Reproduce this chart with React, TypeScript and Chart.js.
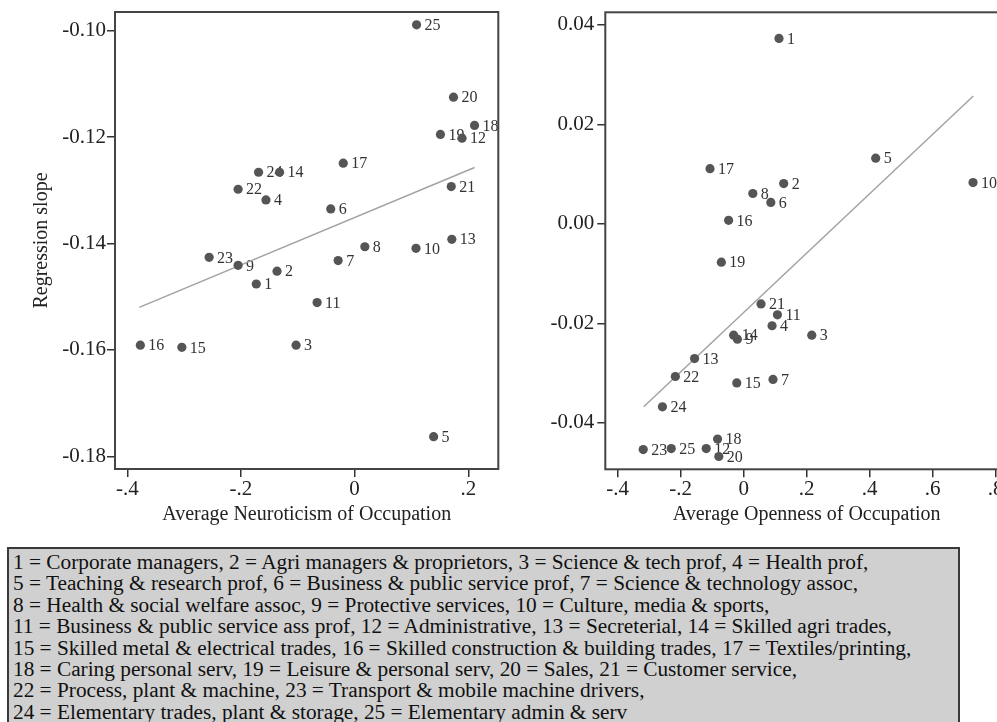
import React, { useEffect, useRef } from "react";
import { Chart, registerables } from "chart.js";

Chart.register(...registerables);

const SERIF = "'Liberation Serif', 'Times New Roman', Times, serif";

// Occupation ids (1..25)
const occupationIds = [
  "1", "2", "3", "4", "5", "6", "7", "8", "9", "10", "11", "12", "13",
  "14", "15", "16", "17", "18", "19", "20", "21", "22", "23", "24", "25",
];

// Left panel: average neuroticism vs regression slope
const neuroticism = [
  -0.173, -0.1365, -0.103, -0.156, 0.139, -0.042, -0.029, 0.018, -0.205, 0.108,
  -0.066, 0.189, 0.171, -0.132, -0.304, -0.377, -0.02, 0.211, 0.151, 0.174,
  0.17, -0.205, -0.256, -0.169, 0.109,
];
const neuroticismSlope = [
  -0.1476, -0.1452, -0.1591, -0.1318, -0.1763, -0.1335, -0.1432, -0.1406, -0.1441, -0.1409,
  -0.1511, -0.1202, -0.1392, -0.1266, -0.1595, -0.1591, -0.1249, -0.1178, -0.1195, -0.1125,
  -0.1293, -0.1298, -0.1426, -0.1266, -0.0989,
];
const neuroFitX = [-0.379, 0.211];
const neuroFitY = [-0.152, -0.1257];

// Right panel: average openness vs regression slope
const openness = [
  0.112, 0.127, 0.216, 0.09, 0.419, 0.086, 0.093, 0.029, -0.02, 0.728,
  0.107, -0.119, -0.156, -0.032, -0.022, -0.048, -0.107, -0.083, -0.071, -0.079,
  0.055, -0.217, -0.319, -0.258, -0.23,
];
const opennessSlope = [
  0.0373, 0.0081, -0.0224, -0.0205, 0.0132, 0.0043, -0.0313, 0.0061, -0.0232, 0.0083,
  -0.0183, -0.0452, -0.0271, -0.0224, -0.032, 0.0007, 0.0111, -0.0433, -0.0077, -0.0468,
  -0.0161, -0.0307, -0.0454, -0.0368, -0.0452,
];
const openFitX = [-0.3175, 0.7289];
const openFitY = [-0.0368, 0.0257];

// Ticks
const neuroXTicks = [-0.4, -0.2, 0, 0.2];
const neuroXTickLabels = ["-.4", "-.2", "0", ".2"];
const neuroYTicks = [-0.18, -0.16, -0.14, -0.12, -0.1];
const neuroYTickLabels = ["-0.18", "-0.16", "-0.14", "-0.12", "-0.10"];
const openXTicks = [-0.4, -0.2, 0, 0.2, 0.4, 0.6, 0.8];
const openXTickLabels = ["-.4", "-.2", "0", ".2", ".4", ".6", ".8"];
const openYTicks = [-0.04, -0.02, 0, 0.02, 0.04];
const openYTickLabels = ["-0.04", "-0.02", "0.00", "0.02", "0.04"];

const legendLines = [
  "1 = Corporate managers, 2 = Agri managers & proprietors, 3 = Science & tech prof, 4 = Health prof,",
  "5 = Teaching & research prof, 6 = Business & public service prof, 7 = Science & technology assoc,",
  "8 = Health & social welfare assoc, 9 = Protective services, 10 = Culture, media & sports,",
  "11 = Business & public service ass prof, 12 = Administrative, 13 = Secreterial, 14 = Skilled agri trades,",
  "15 = Skilled metal & electrical trades, 16 = Skilled construction & building trades, 17 = Textiles/printing,",
  "18 = Caring personal serv, 19 = Leisure & personal serv, 20 = Sales, 21 = Customer service,",
  "22 = Process, plant & machine, 23 = Transport & mobile machine drivers,",
  "24 = Elementary trades, plant & storage, 25 = Elementary admin & serv",
];

const framePlugin = {
  id: "frame",
  afterDraw(chart: any) {
    const { ctx, chartArea } = chart;
    ctx.save();
    ctx.strokeStyle = "#444";
    ctx.lineWidth = 2;
    ctx.strokeRect(chartArea.left, chartArea.top, chartArea.right - chartArea.left, chartArea.bottom - chartArea.top);
    ctx.restore();
  },
};

const pointLabelPlugin = {
  id: "pointLabels",
  beforeDatasetsDraw(chart: any) {
    const { ctx } = chart;
    const meta = chart.getDatasetMeta(0);
    ctx.save();
    ctx.font = `16px ${SERIF}`;
    ctx.fillStyle = "#333";
    ctx.textAlign = "left";
    ctx.textBaseline = "middle";
    meta.data.forEach((pt: any, i: number) => {
      ctx.fillText(occupationIds[i], pt.x + 8, pt.y + 1);
    });
    ctx.restore();
  },
};

function tickLabel(values: number[], labels: string[]) {
  return (value: number) => {
    const idx = values.findIndex((v) => Math.abs(v - value) < 1e-9);
    return idx >= 0 ? labels[idx] : "";
  };
}

function noAutoPadding(s: any) {
  s.paddingLeft = 0;
  s.paddingRight = 0;
  s.paddingTop = 0;
  s.paddingBottom = 0;
}

type PanelProps = {
  left: number;
  width: number;
  height: number;
  xs: number[];
  ys: number[];
  fitX: number[];
  fitY: number[];
  xMin: number;
  xMax: number;
  yMin: number;
  yMax: number;
  xTicks: number[];
  xTickLabels: string[];
  yTicks: number[];
  yTickLabels: string[];
  xTitle: string;
  yTitle: string;
  yAxisWidth: number;
  xAxisHeight: number;
  padTop: number;
  padRight: number;
  yTickPadding: number;
};

function Panel(p: PanelProps) {
  const ref = useRef<HTMLCanvasElement | null>(null);
  useEffect(() => {
    if (!ref.current) return;
    const chart = new Chart(ref.current, {
      type: "scatter",
      data: {
        datasets: [
          {
            data: p.xs.map((x, i) => ({ x, y: p.ys[i] })),
            pointRadius: 4.6,
            pointBackgroundColor: "#555",
            pointBorderWidth: 0,
            showLine: false,
          },
          {
            data: p.fitX.map((x, i) => ({ x, y: p.fitY[i] })),
            showLine: true,
            pointRadius: 0,
            borderColor: "#a3a3a3",
            borderWidth: 1.5,
            fill: false,
          },
        ],
      },
      options: {
        responsive: false,
        animation: false,
        events: [],
        layout: { autoPadding: false, padding: { top: p.padTop, right: p.padRight, left: 0, bottom: 0 } },
        plugins: { legend: { display: false }, tooltip: { enabled: false } },
        scales: {
          x: {
            type: "linear",
            position: "bottom",
            min: p.xMin,
            max: p.xMax,
            afterBuildTicks: (s: any) => {
              s.ticks = p.xTicks.map((v) => ({ value: v }));
            },
            afterFit: (s: any) => {
              s.height = p.xAxisHeight;
              noAutoPadding(s);
            },
            ticks: {
              autoSkip: false,
              maxRotation: 0,
              minRotation: 0,
              padding: 0,
              color: "#222",
              font: { family: SERIF, size: 21 },
              callback: tickLabel(p.xTicks, p.xTickLabels),
            },
            grid: { drawOnChartArea: false, drawTicks: true, tickLength: 8, color: "#333", lineWidth: 1.5 },
            border: { display: false },
            title: {
              display: true,
              text: p.xTitle,
              color: "#222",
              font: { family: SERIF, size: 20 },
              padding: { top: 0, bottom: 13 },
            },
          },
          y: {
            type: "linear",
            position: "left",
            min: p.yMin,
            max: p.yMax,
            afterBuildTicks: (s: any) => {
              s.ticks = p.yTicks.map((v) => ({ value: v }));
            },
            afterFit: (s: any) => {
              s.width = p.yAxisWidth;
              noAutoPadding(s);
            },
            ticks: {
              autoSkip: false,
              padding: p.yTickPadding,
              color: "#222",
              font: { family: SERIF, size: 21 },
              callback: tickLabel(p.yTicks, p.yTickLabels),
            },
            grid: { drawOnChartArea: false, drawTicks: true, tickLength: 8, color: "#333", lineWidth: 1.5 },
            border: { display: false },
            title: {
              display: p.yTitle !== "",
              text: p.yTitle,
              color: "#222",
              font: { family: SERIF, size: 20 },
              padding: { top: 30, bottom: 0 },
            },
          },
        },
      },
      plugins: [framePlugin, pointLabelPlugin],
    } as any);
    return () => chart.destroy();
  }, []);
  return (
    <canvas
      ref={ref}
      width={p.width}
      height={p.height}
      style={{ position: "absolute", left: p.left, top: 0, width: p.width, height: p.height }}
    />
  );
}

export default function App() {
  return (
    <div
      style={{
        position: "fixed",
        left: 0,
        top: 0,
        width: 997,
        height: 722,
        overflow: "hidden",
        background: "#fff",
      }}
    >
      <Panel
        left={0}
        width={500}
        height={540}
        xs={neuroticism}
        ys={neuroticismSlope}
        fitX={neuroFitX}
        fitY={neuroFitY}
        xMin={-0.4216}
        xMax={0.2528}
        yMin={-0.18237}
        yMax={-0.09649}
        xTicks={neuroXTicks}
        xTickLabels={neuroXTickLabels}
        yTicks={neuroYTicks}
        yTickLabels={neuroYTickLabels}
        xTitle="Average Neuroticism of Occupation"
        yTitle="Regression slope"
        yAxisWidth={115}
        xAxisHeight={71}
        padTop={12}
        padRight={1.7}
        yTickPadding={1}
      />
      <Panel
        left={500}
        width={508}
        height={540}
        xs={openness}
        ys={opennessSlope}
        fitX={openFitX}
        fitY={openFitY}
        xMin={-0.4394}
        xMax={0.839}
        yMin={-0.04937}
        yMax={0.04255}
        xTicks={openXTicks}
        xTickLabels={openXTickLabels}
        yTicks={openYTicks}
        yTickLabels={openYTickLabels}
        xTitle="Average Openness of Occupation"
        yTitle=""
        yAxisWidth={105.3}
        xAxisHeight={70.7}
        padTop={12.3}
        padRight={0}
        yTickPadding={3}
      />
      <div
        style={{
          position: "absolute",
          left: 7,
          top: 547,
          width: 953,
          height: 190,
          boxSizing: "border-box",
          background: "#d0d0d0",
          border: "2px solid #3a3a3a",
          padding: "3px 0 0 4px",
          fontFamily: SERIF,
          fontSize: 21.3,
          lineHeight: "21.4px",
          color: "#111",
          whiteSpace: "pre",
        }}
      >
        {legendLines.map((line, i) => (
          <div key={i}>{line}</div>
        ))}
      </div>
    </div>
  );
}
